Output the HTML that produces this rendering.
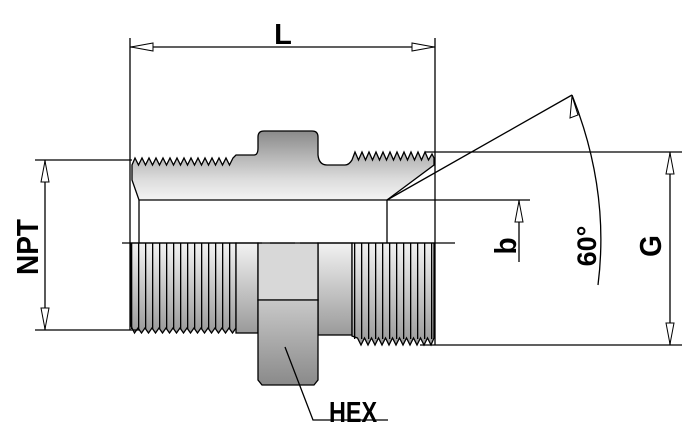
<!DOCTYPE html>
<html><head><meta charset="utf-8"><style>
html,body{margin:0;padding:0;background:#fff;width:686px;height:442px;overflow:hidden}
svg{display:block}
text{font-family:"Liberation Sans",sans-serif;font-weight:bold;fill:#000}
</style></head><body>
<svg width="686" height="442" viewBox="0 0 686 442" xmlns="http://www.w3.org/2000/svg">
<defs>
<linearGradient id="gu" x1="0" y1="0" x2="0" y2="1">
<stop offset="0" stop-color="#8a8a8a"/><stop offset="0.7" stop-color="#dcdcdc"/><stop offset="1" stop-color="#f4f4f4"/></linearGradient>
<linearGradient id="gl" x1="0" y1="0" x2="0" y2="1">
<stop offset="0" stop-color="#f2f2f2"/><stop offset="1" stop-color="#9a9a9a"/></linearGradient>
<linearGradient id="gh" x1="0" y1="0" x2="0" y2="1">
<stop offset="0" stop-color="#c8c8c8"/><stop offset="1" stop-color="#8a8a8a"/></linearGradient>
<pattern id="th" x="131" y="0" width="7" height="10" patternUnits="userSpaceOnUse">
<rect x="0" y="0" width="1.3" height="10" fill="#000"/></pattern>
<pattern id="th2" x="354" y="0" width="7" height="10" patternUnits="userSpaceOnUse">
<rect x="0" y="0" width="1.3" height="10" fill="#000"/></pattern>
</defs>
<g stroke="#000" stroke-width="1.3" fill="none">
<line x1="130" y1="38" x2="130" y2="330"/>
<line x1="435" y1="38" x2="435" y2="345"/>
<line x1="130" y1="47" x2="435" y2="47"/>
</g>
<polygon points="131,47 153,43 153,51" fill="#fff" stroke="#000" stroke-width="1"/>
<polygon points="434,47 412,43 412,51" fill="#fff" stroke="#000" stroke-width="1"/>
<text x="283" y="44" font-size="29" text-anchor="middle">L</text>

<path d="M132,180 L132,165 L135,158 L138.5,165 L142,158 L145.5,165 L149,158 L152.5,165 L156,158 L159.5,165 L163,158 L166.5,165 L170,158 L173.5,165 L177,158 L180.5,165 L184,158 L187.5,165 L191,158 L194.5,165 L198,158 L201.5,165 L205,158 L208.5,165 L212,158 L215.5,165 L219,158 L222.5,165 L226,158 L229.5,165 L233,158 L236,155 L254,155 Q258,155 258,148 L258,137 Q258,131 264,131 L312,131 Q318,131 318,137 L318,155 Q319,165 327,165 L345,165 Q349,165 352,160 L355,152 L358.5,160 L362,152 L365.5,160 L369,152 L372.5,160 L376,152 L379.5,160 L383,152 L386.5,160 L390,152 L393.5,160 L397,152 L400.5,160 L404,152 L407.5,160 L411,152 L414.5,160 L418,152 L421.5,160 L425,152 L428.5,160 L432,154 L434,158 L434,165 L387,200 L139,200 Z" fill="url(#gu)" stroke="#000" stroke-width="1.3"/>
<g stroke="#000" stroke-width="1.3" fill="none">
<line x1="387" y1="200" x2="572" y2="95"/>
<line x1="139" y1="200" x2="139" y2="243"/>
<line x1="387" y1="200" x2="387" y2="243"/>
<line x1="387" y1="200" x2="530" y2="200"/>
<line x1="425" y1="152" x2="682" y2="152"/>
</g>

<path d="M131,243 L236,243 L236,328 L232.5,333 L229,328 L225.5,333 L222,328 L218.5,333 L215,328 L211.5,333 L208,328 L204.5,333 L201,328 L197.5,333 L194,328 L190.5,333 L187,328 L183.5,333 L180,328 L176.5,333 L173,328 L169.5,333 L166,328 L162.5,333 L159,328 L155.5,333 L152,328 L148.5,333 L145,328 L141.5,333 L138,328 L134.5,333 L131,326 Z" fill="url(#gl)" stroke="#000" stroke-width="1.3"/>
<rect x="131" y="243" width="105" height="86" fill="url(#th)"/>
<rect x="236" y="243" width="22" height="90" fill="url(#gl)" stroke="#000" stroke-width="1.3"/>
<rect x="318" y="243" width="34" height="92" fill="url(#gl)" stroke="#000" stroke-width="1.3"/>
<path d="M258,243 L318,243 L318,300 L258,300 Z" fill="#d8d8d8" stroke="#000" stroke-width="1.3"/>
<path d="M258,300 L318,300 L318,380 L314,385 L262,385 L258,380 Z" fill="url(#gh)" stroke="#000" stroke-width="1.3"/>
<path d="M352,243 L434,243 L434,338 L431,345 L427.5,338 L424,345 L420.5,338 L417,345 L413.5,338 L410,345 L406.5,338 L403,345 L399.5,338 L396,345 L392.5,338 L389,345 L385.5,338 L382,345 L378.5,338 L375,345 L371.5,338 L368,345 L364.5,338 L361,345 L357.5,338 L352,336 Z" fill="url(#gl)" stroke="#000" stroke-width="1.3"/>
<rect x="354" y="243" width="80" height="96" fill="url(#th2)"/>
<g stroke="#000" stroke-width="1.3" fill="none">
<line x1="420" y1="345" x2="682" y2="345"/>
<line x1="122" y1="243" x2="262" y2="243"/>
<line x1="270" y1="243" x2="295" y2="243"/>
<line x1="300" y1="243" x2="455" y2="243"/>
<line x1="35" y1="160" x2="132" y2="160"/>
<line x1="35" y1="330" x2="140" y2="330"/>
<line x1="45" y1="160" x2="45" y2="330"/>
<line x1="670" y1="152" x2="670" y2="345"/>
<line x1="519" y1="200" x2="519" y2="262"/>
<path d="M572,95 Q610,190 598,285"/>
<polyline points="285,347 313,420 388,420"/>
</g>
<g fill="#fff" stroke="#000" stroke-width="1">
<polygon points="45,161 41,182 49,182"/>
<polygon points="45,329 41,308 49,308"/>
<polygon points="670,153 666,174 674,174"/>
<polygon points="670,344 666,323 674,323"/>
<polygon points="519,201 515,222 523,222"/>
<polygon points="572,96 570,118 578,115"/>
</g>
<text transform="translate(38,247) rotate(-90) scale(1,1.1)" font-size="28" text-anchor="middle">NPT</text>
<text transform="translate(516,246) rotate(-90) scale(1,1.1)" font-size="28" text-anchor="middle">b</text>
<text transform="translate(596,246) rotate(-90)" font-size="27" text-anchor="middle" font-weight="normal">60°</text>
<text transform="translate(661,246) rotate(-90) scale(1,1.1)" font-size="28" text-anchor="middle">G</text>
<text transform="translate(353,422) scale(0.9,1.1)" font-size="26" text-anchor="middle">HEX</text>
</svg>
</body></html>
